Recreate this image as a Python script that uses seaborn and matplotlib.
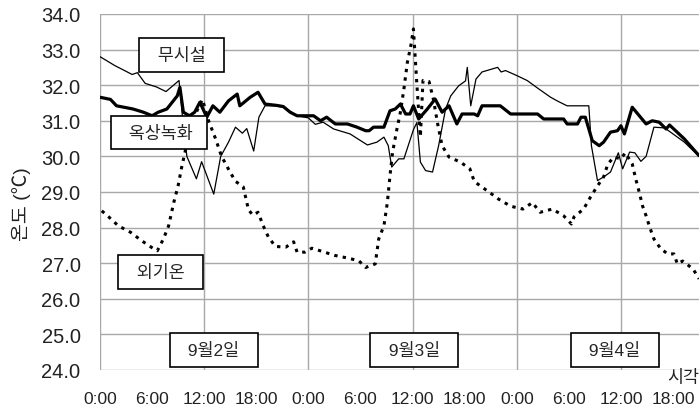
import matplotlib
matplotlib.use("Agg")
import matplotlib.pyplot as plt
import seaborn as sns

# hours from 9/2 0:00
bare_hours = [0, 1.7, 3.7, 4.3, 5.2, 6.5, 7.6, 9.1, 9.5, 10.0, 11.1, 11.7, 13.1, 13.9, 14.8, 15.6,
              16.4, 16.9, 17.7, 18.3, 19.0, 20.0, 21.1, 22.0, 22.7, 24.0, 24.8, 25.7, 26.9, 28.8,
              30.8, 31.9, 32.7, 33.2, 33.6, 34.4, 35.0, 36.1, 36.5, 36.9, 37.5, 38.3, 39.0, 39.8,
              40.4, 41.3, 42.1, 42.3, 42.7, 43.3, 44.0, 45.8, 46.2, 46.7, 48.0, 49.2, 50.5, 51.9,
              52.8, 53.8, 56.3, 56.6, 57.3, 58.0, 58.8, 59.7, 60.2, 61.0, 61.6, 62.3, 62.9, 63.8,
              65.0, 65.6, 67.3, 69.0]
bare_temp = [32.8, 32.55, 32.3, 32.35, 32.05, 31.95, 31.82, 32.13, 31.1, 30.0, 29.37, 29.85, 28.94,
             30.0, 30.4, 30.82, 30.65, 30.78, 30.15, 31.1, 31.42, 31.42, 31.38, 31.25, 31.14, 31.08,
             30.9, 30.96, 30.77, 30.63, 30.32, 30.4, 30.54, 30.3, 29.7, 29.93, 29.93, 30.75, 30.95,
             29.84, 29.6, 29.56, 30.3, 31.33, 31.7, 31.98, 32.12, 32.5, 31.42, 32.17, 32.37, 32.5,
             32.37, 32.41, 32.27, 32.13, 31.9, 31.66, 31.54, 31.42, 31.42, 30.3, 29.32, 29.42, 29.56,
             30.1, 29.65, 30.12, 30.1, 29.86, 30.0, 30.82, 30.8, 30.7, 30.4, 30.0]

green_hours = [0, 1.2, 1.9, 3.8, 5.0, 6.0, 6.7, 7.7, 8.9, 9.2, 9.6, 10.3, 10.9, 11.5, 12.3, 13.0,
               13.8, 14.8, 15.8, 16.1, 17.3, 18.2, 19.0, 20.4, 21.1, 21.9, 22.7, 24.6, 25.4, 26.1,
               27.1, 28.5, 29.6, 30.6, 31.0, 31.5, 32.7, 33.4, 34.0, 34.6, 35.2, 35.7, 36.1, 36.7,
               37.7, 38.6, 39.4, 40.2, 41.1, 41.7, 43.1, 43.5, 44.0, 46.1, 47.3, 50.4, 51.1, 53.4,
               53.8, 55.0, 55.4, 55.9, 56.7, 57.5, 58.0, 58.8, 59.6, 60.0, 60.4, 61.3, 62.9, 63.6,
               64.4, 65.2, 65.6, 67.3, 69.0]
green_temp = [31.66, 31.6, 31.42, 31.33, 31.24, 31.14, 31.24, 31.33, 31.7, 31.94, 31.24, 31.14,
              31.24, 31.52, 31.1, 31.42, 31.24, 31.56, 31.75, 31.42, 31.66, 31.8, 31.47, 31.43,
              31.4, 31.24, 31.14, 31.14, 31.0, 31.1, 30.91, 30.91, 30.82, 30.72, 30.72, 30.82,
              30.82, 31.28, 31.33, 31.47, 31.19, 31.19, 31.42, 31.05, 31.33, 31.61, 31.24, 31.42,
              30.91, 31.19, 31.19, 31.14, 31.42, 31.42, 31.19, 31.19, 31.05, 31.05, 30.91, 30.91,
              31.1, 31.1, 30.44, 30.3, 30.4, 30.68, 30.72, 30.86, 30.63, 31.38, 30.91, 31.0, 30.96,
              30.77, 30.88, 30.49, 30.02]

air_hours = [0.2, 1.0, 2.1, 3.5, 4.8, 6.2, 6.6, 7.3, 7.9, 8.5, 9.0, 9.4, 10.0, 10.6, 11.2, 11.8,
             12.5, 13.3, 14.0, 15.0, 15.6, 16.5, 17.1, 17.6, 18.2, 18.8, 19.4, 20.2, 21.4, 22.3,
             22.7, 23.6, 24.4, 25.6, 27.0, 28.4, 29.8, 30.6, 31.7, 32.1, 32.7, 33.1, 33.4, 33.7,
             34.2, 34.6, 35.0, 35.4, 35.8, 36.1, 36.5, 36.9, 37.2, 37.9, 38.4, 38.9, 39.4, 40.2,
             41.5, 42.6, 43.1, 43.8, 44.8, 45.9, 47.3, 48.7, 49.8, 50.7, 52.1, 53.4, 54.3, 54.6,
             55.7, 56.5, 57.3, 58.0, 58.5, 59.2, 60.0, 60.5, 61.3, 61.7, 62.1, 62.5, 62.9, 63.3,
             63.8, 64.6, 65.4, 66.1, 66.5, 67.1, 68.3, 69.0]
air_temp = [28.47, 28.3, 28.05, 27.87, 27.63, 27.4, 27.35, 27.68, 28.05, 28.71, 29.18, 29.69,
            30.35, 30.9, 31.3, 31.6, 31.0, 30.5, 30.0, 29.55, 29.3, 29.14, 28.5, 28.35, 28.43,
            28.05, 27.73, 27.47, 27.45, 27.6, 27.31, 27.31, 27.42, 27.33, 27.22, 27.15, 27.07,
            26.88, 26.98, 27.68, 28.05, 28.71, 29.46, 30.12, 30.77, 31.24, 31.89, 32.64, 33.11,
            33.58, 32.0, 30.55, 32.13, 32.1, 31.6, 30.9, 30.3, 29.98, 29.84, 29.65, 29.3, 29.17,
            29.0, 28.8, 28.6, 28.52, 28.7, 28.43, 28.52, 28.33, 28.1, 28.3, 28.52, 28.86, 29.17,
            29.42, 29.79, 29.98, 29.93, 30.1, 29.79, 29.37, 29.0, 28.6, 28.33, 28.02, 27.68, 27.4,
            27.26, 27.26, 26.98, 27.06, 26.84, 26.56]

tick_major = [0, 12, 24, 36, 48, 60]
tick_minor = [6, 18, 30, 42, 54, 66]
major_labels = ["0:00", "12:00", "0:00", "12:00", "0:00", "12:00"]
minor_labels = ["6:00", "18:00", "6:00", "18:00", "6:00", "18:00"]

sns.set_theme(style="white")
plt.rcParams["font.family"] = ["Liberation Sans", "Noto Sans CJK KR"]

fig = plt.figure(figsize=(6.99, 4.14), dpi=100)
ax = fig.add_axes([0.1431, 0.1039, 0.857, 0.860])

sns.lineplot(x=bare_hours, y=bare_temp, ax=ax, color="black", linewidth=0.9, sort=False)
sns.lineplot(x=green_hours, y=green_temp, ax=ax, color="black", linewidth=2.3, sort=False)
sns.lineplot(x=air_hours, y=air_temp, ax=ax, color="black", linewidth=2.2, sort=False,
             linestyle=(0, (1.1, 1.7)))

ax.set_xlim(0, 69.0)
ax.set_ylim(24, 34)
ax.set_yticks([24 + i for i in range(11)])
ax.set_yticklabels([f"{24 + i:.1f}" for i in range(11)], fontsize=14.5, color="#222222")
ax.set_xticks(tick_major)
ax.set_xticklabels(major_labels, fontsize=12.5, color="#222222")
ax.set_xticks(tick_minor, minor=True)
ax.set_xticklabels(minor_labels, minor=True, fontsize=12.5, color="#222222")
ax.tick_params(axis="both", which="both", length=0)
ax.tick_params(axis="y", pad=14)
ax.tick_params(axis="x", which="both", pad=15)

ax.grid(True, axis="y", color="#a8a8a8", linewidth=1.0)
ax.grid(True, axis="x", which="major", color="#a8a8a8", linewidth=1.0)
for s in ax.spines.values():
    s.set_visible(False)

ax.set_xlabel("")
ax.set_ylabel("온도 (℃)", fontsize=14, color="#222222")
ax.yaxis.set_label_coords(-0.115, 0.47)

box = dict(boxstyle="square,pad=0.5", facecolor="white", edgecolor="black", linewidth=1.2)
ax.text(9.4, 32.85, "  무시설  ", ha="center", va="center", fontsize=12.5, bbox=box)
ax.text(6.75, 30.67, "  옥상녹화 ", ha="center", va="center", fontsize=12.5, bbox=box)
ax.text(7.0, 26.75, "  외기온  ", ha="center", va="center", fontsize=12.5, bbox=box)
for hx, lab in [(13.1, "9월2일"), (36.2, "9월3일"), (59.3, "9월4일")]:
    ax.text(hx, 24.56, "  " + lab + "  ", ha="center", va="center", fontsize=12.5, bbox=box)

ax.text(1.0, -0.02, "시각", transform=ax.transAxes, ha="right", va="center",
        fontsize=12.5, color="#222222")

fig.savefig("out.png", dpi=100)
